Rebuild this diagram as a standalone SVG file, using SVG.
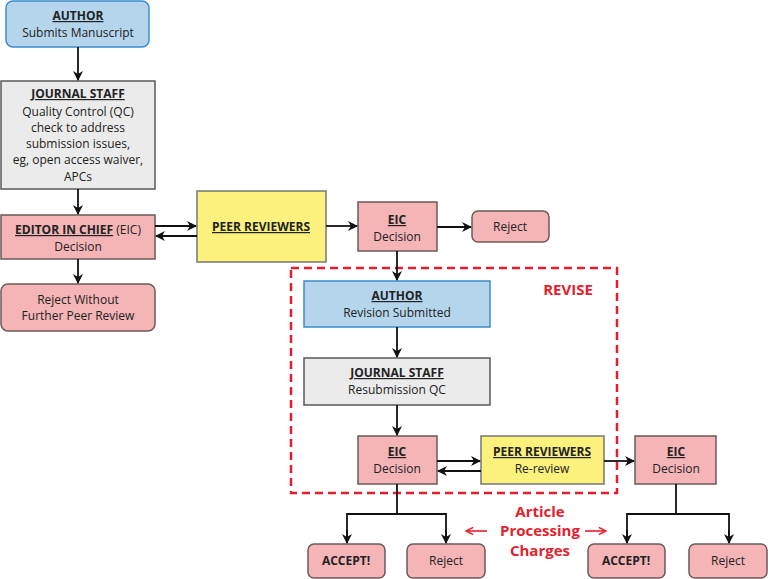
<svg xmlns="http://www.w3.org/2000/svg" width="768" height="579" viewBox="0 0 768 579">
<defs>
<marker id="ah" viewBox="0 0 10 10" refX="9" refY="5" markerWidth="10" markerHeight="10" markerUnits="userSpaceOnUse" orient="auto">
<path d="M0,0 L10,5 L0,10 L3,5 z" fill="#111"/>
</marker>
<marker id="rh" viewBox="0 0 10 10" refX="9" refY="5" markerWidth="9" markerHeight="9" markerUnits="userSpaceOnUse" orient="auto">
<path d="M1,1 L9,5 L1,9" fill="none" stroke="#e31e2d" stroke-width="1.6"/>
</marker>
<style>
text{font-family:"Open Sans","Liberation Sans",sans-serif;font-size:12px;fill:#222;text-anchor:middle}
.b{font-weight:bold}
.u{text-decoration:underline}
.blue{fill:#b4d5ec;stroke:#3c8dc9;stroke-width:1.5}
.gray{fill:#ebebeb;stroke:#5a5a5a;stroke-width:1.5}
.pink{fill:#f5b5b7;stroke:#6a5a5a;stroke-width:1.5}
.yel{fill:#fbf17c;stroke:#777;stroke-width:1.5}
.c{fill:none;stroke:#111;stroke-width:1.8}
.red{fill:#e31e2d;font-weight:bold;font-size:15px}
</style>
</defs>
<rect width="768" height="579" fill="#fff"/>
<g id="revise">
<rect x="291" y="268" width="326" height="225" fill="none" stroke="#e31e2d" stroke-width="2.5" stroke-dasharray="8,5"/>
<text x="568" y="295" class="red">REVISE</text>
</g>
<g id="author1">
<rect x="6" y="1" width="143" height="46" rx="7" class="blue"/>
<text x="78" y="20" class="b u">AUTHOR</text>
<text x="78" y="37">Submits Manuscript</text>
</g>
<g id="staff1">
<rect x="1" y="81" width="154" height="108" class="gray"/>
<text x="78" y="98" class="b u">JOURNAL STAFF</text>
<text x="78" y="116">Quality Control (QC)</text>
<text x="78" y="132">check to address</text>
<text x="78" y="148">submission issues,</text>
<text x="78" y="164">eg, open access waiver,</text>
<text x="78" y="181">APCs</text>
</g>
<g id="eic1">
<rect x="1" y="215" width="154" height="44" class="pink"/>
<text x="78" y="234"><tspan class="b u">EDITOR IN CHIEF</tspan> (EIC)</text>
<text x="78" y="251">Decision</text>
</g>
<g id="rejectwo">
<rect x="1" y="284" width="154" height="47" rx="7" class="pink"/>
<text x="78" y="304">Reject Without</text>
<text x="78" y="320">Further Peer Review</text>
</g>
<g id="peer1">
<rect x="197" y="191" width="129" height="71" class="yel"/>
<text x="261" y="231" class="b u">PEER REVIEWERS</text>
</g>
<g id="eic2">
<rect x="358" y="202" width="79" height="49" class="pink"/>
<text x="397" y="224" class="b u">EIC</text>
<text x="397" y="241">Decision</text>
</g>
<g id="reject1">
<rect x="472" y="211" width="77" height="31" rx="6" class="pink"/>
<text x="510" y="231">Reject</text>
</g>
<g id="author2">
<rect x="304" y="281" width="186" height="46" class="blue"/>
<text x="397" y="300" class="b u">AUTHOR</text>
<text x="397" y="317">Revision Submitted</text>
</g>
<g id="staff2">
<rect x="304" y="358" width="186" height="47" class="gray"/>
<text x="397" y="377" class="b u">JOURNAL STAFF</text>
<text x="397" y="394">Resubmission QC</text>
</g>
<g id="eic3">
<rect x="358" y="436" width="79" height="48" class="pink"/>
<text x="397" y="456" class="b u">EIC</text>
<text x="397" y="473">Decision</text>
</g>
<g id="peer2">
<rect x="481" y="436" width="123" height="48" class="yel"/>
<text x="542" y="456" class="b u">PEER REVIEWERS</text>
<text x="542" y="473">Re-review</text>
</g>
<g id="eic4">
<rect x="635" y="436" width="81" height="48" class="pink"/>
<text x="676" y="456" class="b u">EIC</text>
<text x="676" y="473">Decision</text>
</g>
<g id="accept1">
<rect x="308" y="544" width="77" height="34" rx="6" class="pink"/>
<text x="346" y="565" class="b">ACCEPT!</text>
</g>
<g id="reject2">
<rect x="407" y="544" width="78" height="34" rx="6" class="pink"/>
<text x="446" y="565">Reject</text>
</g>
<g id="accept2">
<rect x="588" y="544" width="77" height="34" rx="6" class="pink"/>
<text x="626" y="565" class="b">ACCEPT!</text>
</g>
<g id="reject3">
<rect x="689" y="544" width="78" height="34" rx="6" class="pink"/>
<text x="728" y="565">Reject</text>
</g>
<g id="apc">
<text x="540" y="517" class="red">Article</text>
<text x="540" y="536" class="red">Processing</text>
<text x="540" y="556" class="red">Charges</text>
<line x1="487" y1="531" x2="466" y2="531" stroke="#e31e2d" stroke-width="1.6" marker-end="url(#rh)"/>
<line x1="585" y1="531" x2="606" y2="531" stroke="#e31e2d" stroke-width="1.6" marker-end="url(#rh)"/>
</g>
<g id="connectors">
<line x1="78" y1="47" x2="78" y2="80" class="c" marker-end="url(#ah)"/>
<line x1="78" y1="189" x2="78" y2="214" class="c" marker-end="url(#ah)"/>
<line x1="78" y1="259" x2="78" y2="283" class="c" marker-end="url(#ah)"/>
<line x1="155" y1="226" x2="196" y2="226" class="c" marker-end="url(#ah)"/>
<line x1="197" y1="236" x2="156" y2="236" class="c" marker-end="url(#ah)"/>
<line x1="326" y1="226" x2="357" y2="226" class="c" marker-end="url(#ah)"/>
<line x1="437" y1="227" x2="471" y2="227" class="c" marker-end="url(#ah)"/>
<line x1="397" y1="251" x2="397" y2="280" class="c" marker-end="url(#ah)"/>
<line x1="397" y1="327" x2="397" y2="357" class="c" marker-end="url(#ah)"/>
<line x1="397" y1="405" x2="397" y2="435" class="c" marker-end="url(#ah)"/>
<line x1="437" y1="461" x2="480" y2="461" class="c" marker-end="url(#ah)"/>
<line x1="481" y1="471" x2="438" y2="471" class="c" marker-end="url(#ah)"/>
<line x1="604" y1="461" x2="634" y2="461" class="c" marker-end="url(#ah)"/>
<path d="M397,484 V514 M347,542 V514 H446 V542" class="c"/>
<line x1="347" y1="530" x2="347" y2="543" class="c" marker-end="url(#ah)"/>
<line x1="446" y1="530" x2="446" y2="543" class="c" marker-end="url(#ah)"/>
<path d="M676,484 V514 M627,542 V514 H729 V542" class="c"/>
<line x1="627" y1="530" x2="627" y2="543" class="c" marker-end="url(#ah)"/>
<line x1="729" y1="530" x2="729" y2="543" class="c" marker-end="url(#ah)"/>
</g>
</svg>
